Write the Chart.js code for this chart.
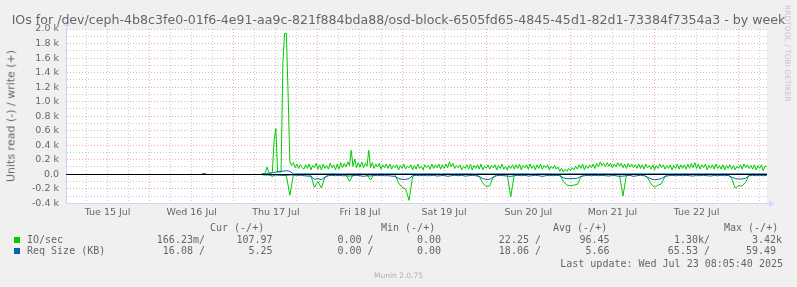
<!DOCTYPE html>
<html>
<head>
<meta charset="utf-8">
<script src="https://cdn.jsdelivr.net/npm/chart.js"></script>
<style>
body { margin: 0; background: #f0f0f0; }
#wrap { position: relative; width: 797px; height: 287px; overflow: hidden; font-family: 'DejaVu Sans'; color: #666; }
canvas { position: absolute; left: 0; top: 0; }
.t { position: absolute; white-space: pre; }
.m { font-family: 'DejaVu Sans Mono'; font-size: 10px; line-height: 12px; }
.sq { position: absolute; width: 6px; height: 6px; }
</style>
</head>
<body>
<div id="wrap">
  <canvas id="c" width="797" height="287"></canvas>
  <div class="t" id="title" style="left:0;width:797px;text-align:center;top:12px;font-size:12.6px;line-height:15px;">IOs for /dev/ceph-4b8c3fe0-01f6-4e91-aa9c-821f884bda88/osd-block-6505fd65-4845-45d1-82d1-73384f7354a3 - by week</div>
  <div class="t" id="unit" style="left:11px;top:116px;font-size:11px;transform:translate(-50%,-50%) rotate(-90deg);">Units read (-) / write (+)</div>
  <div class="t" style="left:783px;top:5px;font-size:7.5px;writing-mode:vertical-rl;color:#c4c4c4;">RRDTOOL / TOBI OETIKER</div>
  <div class="t" style="left:0;width:797px;text-align:center;top:271px;font-size:7.5px;color:#b0b0b0;">Munin 2.0.75</div>
  <div id="legend"></div>
</div>
<script>
// time axis in hours from Tue 15 Jul 00:00
const dayLabels = ['Tue 15 Jul', 'Wed 16 Jul', 'Thu 17 Jul', 'Fri 18 Jul', 'Sat 19 Jul', 'Sun 20 Jul', 'Mon 21 Jul', 'Tue 22 Jul'];
const xMin = 0.15, xMax = 200.08;

// IO/sec write (+), every 30 min from h 56
const writeStart = 56;
const writeIO = [
  10,10,20,100,20,10,30,470,630,30,30,30,1530,1940,1940,1090,170,120,160,90,140,80,130,90,
  70,130,80,140,60,120,90,150,70,130,60,140,80,120,70,150,90,130,60,140,70,160,90,150,
  100,170,120,330,110,210,90,160,100,170,90,150,110,330,90,160,80,140,100,150,70,130,90,140,
  80,140,70,120,90,130,60,120,80,140,70,110,90,130,60,120,70,140,80,110,60,130,90,120,
  70,140,80,130,90,140,70,130,80,140,90,170,100,150,80,120,90,130,60,110,80,130,70,140,
  60,120,80,130,70,140,60,110,80,130,70,120,90,130,60,120,80,140,70,110,60,120,80,130,
  70,130,80,140,60,120,90,130,70,140,80,120,60,130,80,140,70,120,90,130,60,110,80,120,
  70,100,40,80,30,70,40,80,50,90,60,110,70,130,80,140,60,120,80,130,90,140,80,150,
  100,170,120,150,100,160,110,150,90,140,100,160,110,150,90,140,80,150,100,140,90,130,80,140,
  80,130,70,140,90,120,70,130,60,120,80,140,90,130,70,120,80,130,60,120,80,140,70,130,
  80,130,70,140,80,150,90,160,80,140,70,130,90,140,60,120,80,130,70,140,80,120,70,130,
  60,120,80,130,70,120,60,110,80,130,70,140,90,130,80,120,70,130,60,120,80,130,50,110,
  108
];

// IO/sec read (-), hourly from h 56
const readStart = 56;
const readIO = [
  -2,-3,-5,-30,-5,-5,-5,-20,-290,-10,-5,-3,
  -3,-5,-20,-180,-100,-190,-40,-5,-3,-5,-3,-5,
  -5,-100,-10,-5,-3,-5,-10,-80,-5,-3,-5,-3,
  -5,-5,-5,-120,-180,-200,-360,-30,-5,-3,-5,-3,
  -3,-5,-3,-5,-3,-5,-3,-5,-3,-5,-3,-5,
  -3,-5,-30,-120,-170,-160,-40,-5,-3,-5,-5,-310,
  -5,-3,-5,-3,-5,-3,-5,-3,-5,-3,-5,-3,
  -3,-5,-100,-150,-160,-150,-140,-40,-5,-3,-5,-3,
  -5,-3,-5,-3,-5,-3,-5,-300,-5,-3,-5,-3,
  -3,-5,-50,-130,-180,-150,-130,-30,-5,-3,-5,-3,
  -5,-3,-5,-3,-5,-3,-5,-3,-5,-3,-5,-3,
  -3,-5,-60,-190,-160,-160,-110,-5,-3,-5,-3,-5,
  -0.17
];

// Req Size (KB) read (-), hourly from h 56
const readReq = [
  -5,-10,-10,-10,-10,-15,-15,-15,-10,-10,-15,-15,
  -20,-25,-30,-70,-60,-75,-40,-20,-15,-20,-15,-20,
  -20,-25,-20,-15,-20,-30,-20,-25,-15,-20,-15,-20,
  -20,-25,-30,-60,-70,-70,-60,-20,-15,-20,-15,-20,
  -20,-15,-25,-20,-15,-30,-20,-15,-20,-15,-25,-20,
  -15,-20,-30,-60,-70,-70,-40,-20,-15,-20,-25,-30,
  -20,-15,-20,-15,-25,-20,-15,-20,-30,-20,-15,-20,
  -15,-20,-50,-60,-60,-60,-55,-30,-20,-15,-20,-15,
  -20,-15,-20,-25,-15,-20,-30,-25,-20,-15,-30,-20,
  -15,-20,-40,-65,-75,-70,-60,-30,-20,-15,-20,-15,
  -20,-15,-20,-25,-15,-20,-15,-20,-25,-15,-20,-15,
  -20,-15,-40,-60,-65,-65,-55,-20,-15,-20,-15,-20,
  -16
];

// Req Size (KB) write (+), hourly from h 39
const reqWriteStart = 39;
const writeReq = [
  10,10,null,null,null,null,null,null,null,null,null,null,null,null,null,null,null,
  2,5,15,20,30,40,40,50,40,5,5,5,
  5,6,5,5,4,6,5,5,6,5,5,4,
  5,6,5,5,6,5,4,6,5,5,6,5,
  5,5,6,5,4,6,5,6,5,5,4,6,
  5,6,5,4,5,6,5,5,6,5,5,6,
  5,5,6,5,5,4,6,5,5,6,5,5,
  6,5,5,6,5,4,5,6,5,5,6,5,
  5,6,5,5,6,5,5,4,6,5,5,6,
  5,5,6,5,5,6,5,5,4,6,5,5,
  6,5,5,6,5,5,6,5,5,4,6,5,
  5,6,5,5,6,5,5,6,5,5,4,6,
  5,5,6,5,5,6,5,5,6,5,5,5,
  5.25
];

// legend table
const seriesNames = ['IO/sec', 'Req Size (KB)'];
const seriesColors = ['#00cc00', '#0066b3'];
const statHeads = ['Cur (-/+)', 'Min (-/+)', 'Avg (-/+)', 'Max (-/+)'];
const curStats = [['166.23m/', '107.97'], ['16.08 /', '5.25']];
const minStats = [['0.00 /', '0.00'], ['0.00 /', '0.00']];
const avgStats = [['22.25 /', '96.45'], ['18.06 /', '5.66']];
const maxStats = [['1.30k/', '3.42k'], ['65.53 /', '59.49 ']];
const lastUpdate = 'Last update: Wed Jul 23 08:05:40 2025';

function toPoints(start, step, arr){
  return arr.map((v, i) => ({x: start + i * step, y: v}));
}

function buildLegend(){
  let html = '';
  const headLeft = [210, 381, 553, 724];
  const firstRight = [205, 373.5, 541, 710];
  const secondRight = [272.5, 441, 609.5, 782];
  const rowTop = [233.5, 245];
  statHeads.forEach((h, i) => {
    html += `<div class="t m" style="left:${headLeft[i]}px;top:221.5px">${h}</div>`;
  });
  const groups = [curStats, minStats, avgStats, maxStats];
  seriesNames.forEach((name, r) => {
    html += `<div class="sq" style="left:14px;top:${rowTop[r] + 3}px;background:${seriesColors[r]}"></div>`;
    html += `<div class="t m" style="left:27px;top:${rowTop[r]}px">${name}</div>`;
    groups.forEach((g, i) => {
      html += `<div class="t m" style="right:${797 - firstRight[i]}px;top:${rowTop[r]}px">${g[r][0]}</div>`;
      html += `<div class="t m" style="right:${797 - secondRight[i]}px;top:${rowTop[r]}px">${g[r][1]}</div>`;
    });
  });
  html += `<div class="t m" style="right:${797 - 783}px;top:257.5px">${lastUpdate}</div>`;
  document.querySelector('#legend').innerHTML = html;
}

const frame = {
  id: 'frame',
  beforeDraw(c){
    const a = c.chartArea, g = c.ctx;
    g.save();
    g.fillStyle = '#ffffff';
    g.fillRect(a.left, a.top, a.right - a.left, a.bottom - a.top);
    g.restore();
  },
  afterDatasetsDraw(c){
    const a = c.chartArea, g = c.ctx;
    const y0 = Math.round(c.scales.y.getPixelForValue(0)) + 0.5;
    g.save();
    g.strokeStyle = '#000000';
    g.lineWidth = 1;
    g.beginPath();
    g.moveTo(a.left, y0);
    g.lineTo(a.right, y0);
    g.stroke();
    // axis extensions and arrows
    g.strokeStyle = '#cfd6f8';
    g.fillStyle = '#cfd6f8';
    g.beginPath();
    g.moveTo(a.left + 0.5, a.top);
    g.lineTo(a.left + 0.5, a.top - 4);
    g.moveTo(a.right, a.bottom + 0.5);
    g.lineTo(a.right + 3, a.bottom + 0.5);
    g.stroke();
    g.beginPath();
    g.moveTo(a.left - 3, a.top - 3);
    g.lineTo(a.left + 4, a.top - 3);
    g.lineTo(a.left + 0.5, a.top - 8);
    g.closePath();
    g.fill();
    g.beginPath();
    g.moveTo(a.right + 2, a.bottom - 3);
    g.lineTo(a.right + 2, a.bottom + 4);
    g.lineTo(a.right + 7, a.bottom + 0.5);
    g.closePath();
    g.fill();
    g.restore();
  }
};

const redGrid = 'rgba(225,110,110,0.6)';
const grayGrid = 'rgba(160,160,160,0.55)';

window.onload = () => {
  buildLegend();
  Chart.defaults.font.family = 'DejaVu Sans';
  const grafica = document.querySelector('#c').getContext('2d');
  new Chart(grafica, {
    type: 'line',
    data: {
      datasets: [
        { label: 'Req Size read', data: toPoints(readStart, 1, readReq), borderColor: seriesColors[1] },
        { label: 'Req Size write', data: toPoints(reqWriteStart, 1, writeReq), borderColor: seriesColors[1] },
        { label: 'IO/sec read', data: toPoints(readStart, 1, readIO), borderColor: seriesColors[0] },
        { label: 'IO/sec write', data: toPoints(writeStart, 0.5, writeIO), borderColor: seriesColors[0] }
      ]
    },
    options: {
      responsive: false,
      animation: false,
      layout: { padding: { top: 29, right: 30, bottom: 63.7, left: 0 } },
      elements: { point: { radius: 0 }, line: { borderWidth: 1, tension: 0 } },
      plugins: { legend: { display: false }, tooltip: { enabled: false } },
      scales: {
        x: {
          type: 'linear',
          min: xMin,
          max: xMax,
          afterBuildTicks: axis => {
            const t = [];
            for (let h = 6; h < xMax; h += 6) t.push({ value: h });
            axis.ticks = t;
          },
          afterFit: s => { s.height = 20; },
          grid: {
            drawTicks: false,
            color: c => (c.tick && c.tick.value % 24 === 0) ? redGrid : grayGrid
          },
          border: { display: true, color: '#cfd6f8', dash: [1, 2] },
          ticks: {
            autoSkip: false,
            maxRotation: 0,
            padding: 4,
            color: '#666',
            font: { size: 9.5 },
            callback: v => (v % 24 === 12) ? dayLabels[(v - 12) / 24] : ''
          }
        },
        y: {
          min: -400,
          max: 2000,
          afterBuildTicks: axis => {
            const t = [];
            for (let v = -400; v <= 2000; v += 100) t.push({ value: v });
            axis.ticks = t;
          },
          afterFit: s => { s.width = 66; },
          grid: {
            drawTicks: false,
            color: c => (c.tick && c.tick.value % 200 === 0) ? redGrid : grayGrid
          },
          border: { display: true, color: '#cfd6f8', dash: [1, 2] },
          ticks: {
            autoSkip: false,
            padding: 7,
            color: '#666',
            font: { size: 9.5 },
            callback: v => {
              if (v % 200 !== 0) return '';
              if (v === 0) return '0.0';
              return (v / 1000).toFixed(1) + ' k';
            }
          }
        }
      }
    },
    plugins: [frame]
  });
};
</script>
</body>
</html>
